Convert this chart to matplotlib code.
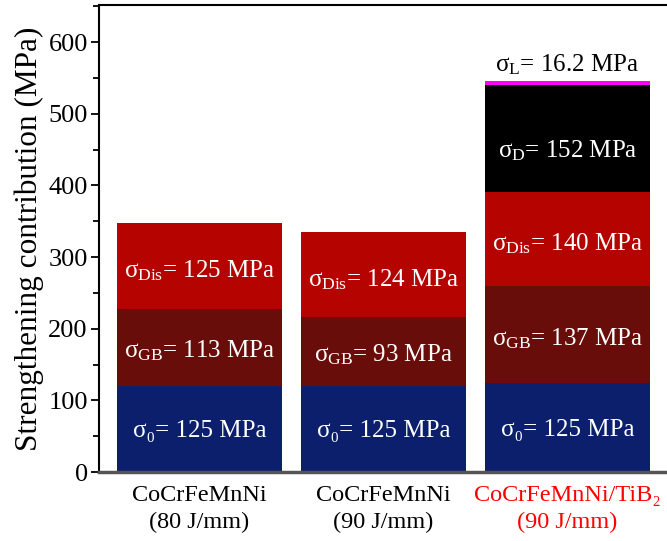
import matplotlib
matplotlib.use('Agg')
import matplotlib.pyplot as plt
import numpy as np

plt.rcParams['font.family'] = ['Liberation Serif', 'DejaVu Serif']
plt.rcParams['mathtext.fontset'] = 'custom'
plt.rcParams['mathtext.rm'] = 'Liberation Serif'
plt.rcParams['mathtext.it'] = 'Liberation Serif'
plt.rcParams['mathtext.bf'] = 'Liberation Serif:bold'

# samples on the x axis
samples = ['CoCrFeMnNi\n(80 J/mm)', 'CoCrFeMnNi\n(90 J/mm)', 'CoCrFeMnNi/TiB₂\n(90 J/mm)']
sample_colors = ['black', 'black', '#ff0000']

# drawn segment heights (MPa)
sigma0 = [120.5, 120.5, 124.0]
sigma_gb = [106.5, 96.0, 135.0]
sigma_dis = [121.0, 119.0, 132.5]
sigma_d = [0.0, 0.0, 149.0]
sigma_l = [0.0, 0.0, 6.0]

# printed values
lab0 = ['125', '125', '125']
lab_gb = ['113', '93', '137']
lab_dis = ['125', '124', '140']
lab_d = '152'
lab_l = '16.2'

C_NAVY = '#0b1f6c'
C_DARK = '#680d0a'
C_RED = '#b50400'
C_BLACK = '#000000'
C_MAG = '#ff00ff'

fig = plt.figure(figsize=(6.67, 5.41), dpi=100)
ax = fig.add_axes([0.1484, 0.1275, 0.8516, 0.8633])

x = np.arange(len(samples))
w = 0.9
s0 = np.array(sigma0)
sg = np.array(sigma_gb)
sd = np.array(sigma_dis)
sD = np.array(sigma_d)
sl = np.array(sigma_l)

ax.bar(x, s0, w, color=C_NAVY, linewidth=0)
ax.bar(x, sg, w, bottom=s0, color=C_DARK, linewidth=0)
ax.bar(x, sd, w, bottom=s0 + sg, color=C_RED, linewidth=0)
ax.bar(x[2], sD[2], w, bottom=(s0 + sg + sd)[2], color=C_BLACK, linewidth=0)
ax.bar(x[2], sl[2], w, bottom=(s0 + sg + sd + sD)[2], color=C_MAG, linewidth=0)

fs = 18
for i in range(3):
    ax.text(x[i], s0[i] / 2 - 3, f'σ₀= {lab0[i]} MPa', color='white', fontsize=fs,
            ha='center', va='center')
    ax.text(x[i], s0[i] + sg[i] / 2 - 5, r'$\sigma_{\mathrm{GB}}$= ' + f'{lab_gb[i]} MPa',
            color='white', fontsize=fs, ha='center', va='center')
    ax.text(x[i], s0[i] + sg[i] + sd[i] / 2 - 7, r'$\sigma_{\mathrm{Dis}}$= ' + f'{lab_dis[i]} MPa',
            color='white', fontsize=fs, ha='center', va='center')
top3 = s0[2] + sg[2] + sd[2]
ax.text(x[2], top3 + sD[2] / 2 - 18, r'$\sigma_{\mathrm{D}}$= ' + f'{lab_d} MPa',
        color='white', fontsize=fs, ha='center', va='center')
ax.text(x[2], top3 + sD[2] + sl[2] + 22, r'$\sigma_{\mathrm{L}}$= ' + f'{lab_l} MPa',
        color='black', fontsize=fs, ha='center', va='center')

ax.set_xlim(-0.546, 2.541)
ax.set_ylim(0, 652)
ax.set_yticks(np.arange(0, 601, 100))
ax.set_yticks(np.arange(50, 651, 100), minor=True)
ax.tick_params(axis='y', which='major', length=6, width=1.3, labelsize=19, pad=2)
ax.tick_params(axis='y', which='minor', length=4, width=1.3)
ax.set_xticks(x)
ax.set_xticklabels(samples, fontsize=17.5, linespacing=1.4)
for lbl, c in zip(ax.get_xticklabels(), sample_colors):
    lbl.set_color(c)
ax.tick_params(axis='x', length=0, pad=9)
ax.set_ylabel('Strengthening contribution (MPa)', fontsize=22.5, labelpad=3)

ax.spines['right'].set_visible(False)
ax.spines['left'].set_linewidth(1.5)
ax.spines['top'].set_linewidth(1.5)
ax.spines['bottom'].set_linewidth(2.5)
ax.spines['bottom'].set_color('#555555')

plt.savefig('out.png', dpi=100)
plt.close()
